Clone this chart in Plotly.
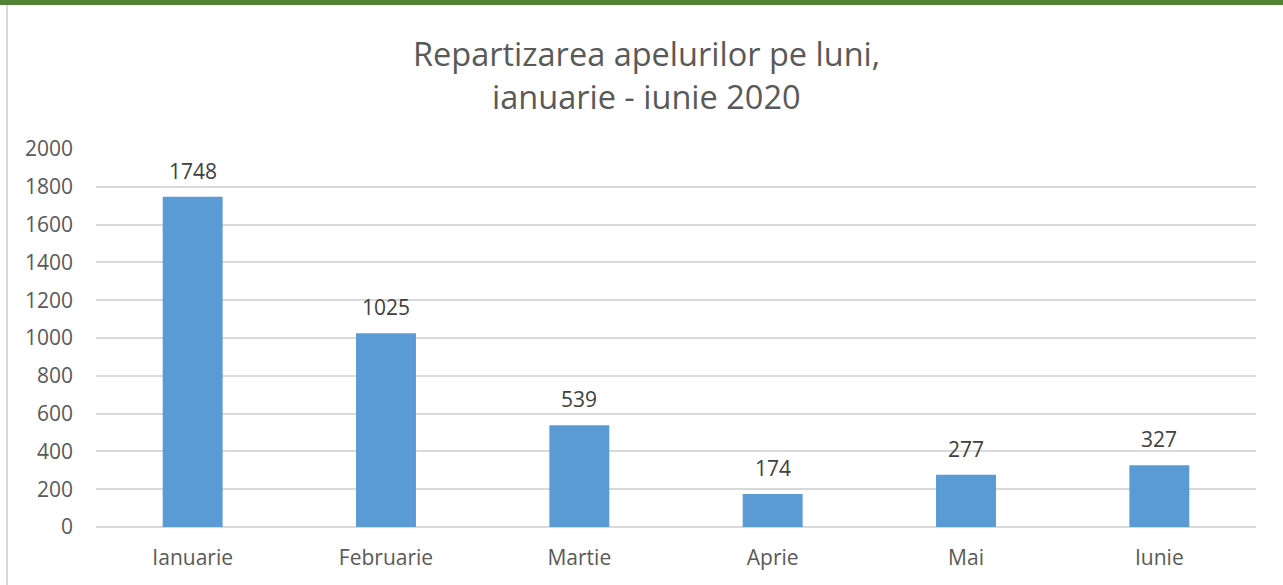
import plotly.graph_objects as go

months = ["Ianuarie", "Februarie", "Martie", "Aprie", "Mai", "Iunie"]
calls = [1748, 1025, 539, 174, 277, 327]
y_ticks = [0, 200, 400, 600, 800, 1000, 1200, 1400, 1600, 1800, 2000]
title_lines = ["Repartizarea apelurilor pe luni,", "ianuarie - iunie 2020"]

FONT = "Open Sans"
W, H = 1283, 585
L, R, T, B = 96, 27, 149, 58

fig = go.Figure()
fig.add_trace(go.Bar(
    x=months, y=calls,
    marker=dict(color="#5B9BD5", line=dict(width=0)),
    width=0.31,
    hoverinfo="x+y",
))

for m, v in zip(months, calls):
    fig.add_annotation(
        x=m, y=v, text=str(v), showarrow=False,
        yanchor="bottom", yshift=10,
        font=dict(family=FONT, size=21, color="#404040"),
    )

pw = W - L - R
ph = H - T - B
def px_x(p):
    return (p - L) / pw
def px_y(p):
    return (H - B - p) / ph

# two-line title placed as centred annotations
for line, cy in zip(title_lines, [53, 97]):
    fig.add_annotation(
        xref="paper", yref="paper", x=px_x(646.5), y=px_y(cy),
        text=line, showarrow=False, xanchor="center", yanchor="middle",
        font=dict(family=FONT, size=32.5, color="#595959"),
    )

shapes = [
    dict(type="rect", xref="paper", yref="paper",
         x0=px_x(0), x1=px_x(W), y0=px_y(5), y1=px_y(-2),
         fillcolor="#538135", line=dict(width=0), layer="above"),
    dict(type="line", xref="paper", yref="paper",
         x0=px_x(7), x1=px_x(7), y0=px_y(5), y1=px_y(H + 2),
         line=dict(color="#d9d9d9", width=2)),
]

fig.update_layout(
    width=W, height=H,
    margin=dict(l=L, r=R, t=T, b=B, pad=0),
    paper_bgcolor="white", plot_bgcolor="white",
    font=dict(family=FONT, color="#595959"),
    showlegend=False,
    bargap=0.69,
    shapes=shapes,
    xaxis=dict(
        showgrid=False, showline=False, zeroline=False,
        tickfont=dict(family=FONT, size=21, color="#595959"),
        ticks="", ticklabelstandoff=16,
    ),
    yaxis=dict(
        range=[0, 2000], tickvals=y_ticks,
        showgrid=True, gridcolor="#d9d9d9", gridwidth=1.5,
        zeroline=True, zerolinecolor="#d9d9d9", zerolinewidth=1.5,
        showline=False, ticks="",
        tickfont=dict(family=FONT, size=21, color="#595959"),
        ticklabelstandoff=22,
    ),
)

fig.write_html(
    "out.html",
    config={"displayModeBar": False},
    post_script="document.body.style.margin='0';document.body.style.padding='0';",
)
